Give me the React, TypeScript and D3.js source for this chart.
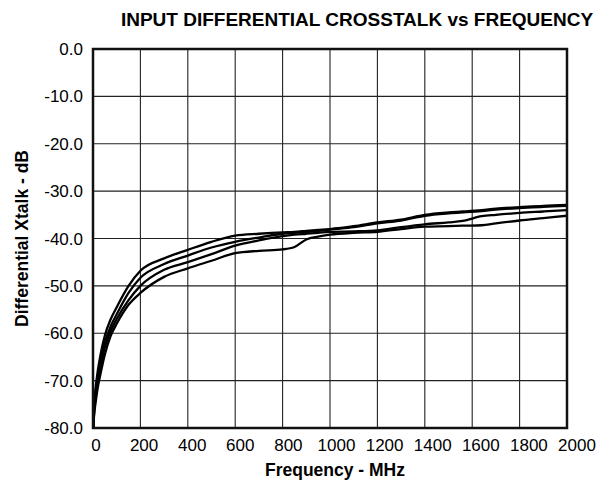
import React from 'react';
import * as d3 from 'd3';

// frequency points (MHz) shared by every trace
const freqs = [1, 5, 10, 20, 30, 50, 75, 100, 150, 200, 300, 400, 500, 600, 700, 800, 850, 900, 950, 1000, 1100, 1200, 1300, 1400, 1500, 1560, 1640, 1700, 1800, 1900, 2000];

const traceA = [-80, -75, -72, -68, -65, -60.5, -57, -54.5, -50, -46.8, -44.2, -42.4, -40.7, -39.4, -39.0, -38.7, -38.6, -38.4, -38.2, -38.0, -37.4, -36.6, -36.0, -35.0, -34.5, -34.3, -34.0, -33.7, -33.4, -33.1, -32.9];
const traceB = [-80, -76, -73, -69, -66.5, -62, -58.5, -56, -51.5, -48.3, -45.4, -43.6, -41.9, -40.7, -39.8, -39.0, -38.8, -38.6, -38.4, -38.1, -37.6, -36.8, -36.2, -35.2, -34.7, -34.5, -34.2, -33.9, -33.6, -33.3, -33.1];
const traceC = [-80, -76.5, -74, -70, -67.5, -63, -59.5, -57, -53, -50.0, -46.6, -45.0, -43.3, -41.5, -40.4, -39.5, -39.2, -39.0, -38.8, -38.6, -38.5, -38.3, -37.6, -37.0, -36.6, -36.3, -35.3, -35.0, -34.6, -34.3, -34.0];
const traceD = [-80, -77, -75, -71.5, -69, -64.5, -60.5, -58, -54, -51.5, -48.1, -46.3, -44.7, -43.1, -42.6, -42.3, -41.8, -40.2, -39.6, -39.2, -38.8, -38.6, -38.0, -37.5, -37.4, -37.3, -37.2, -36.8, -36.2, -35.7, -35.2];

const traces = [traceA, traceB, traceC, traceD];

const xTicks = [0, 200, 400, 600, 800, 1000, 1200, 1400, 1600, 1800, 2000];
const yTicks = [0, -10, -20, -30, -40, -50, -60, -70, -80];

const W = 602;
const H = 485;
const margin = { top: 49, right: 35, bottom: 57, left: 93 };
const font = '"Liberation Sans", Arial, sans-serif';

export default function App() {
  const innerW = W - margin.left - margin.right;
  const innerH = H - margin.top - margin.bottom;

  const x = d3.scaleLinear().domain([0, 2000]).range([margin.left, margin.left + innerW]);
  const y = d3.scaleLinear().domain([-80, 0]).range([margin.top + innerH, margin.top]);
  // tick labels in the original sit a touch right of their gridlines
  const xLabel = d3.scaleLinear().domain([0, 2000]).range([margin.left + 3, margin.left + innerW + 10]);

  const line = d3
    .line<number>()
    .x((_, i) => x(freqs[i]))
    .y((d) => y(d))
    .curve(d3.curveMonotoneX);

  return (
    <svg
      width={W}
      height={H}
      style={{ position: 'absolute', left: 0, top: 0, background: '#fff' }}
      fontFamily={font}
    >
      <rect x={0} y={0} width={W} height={H} fill="#fff" />

      {/* title */}
      <text x={357} y={26} textAnchor="middle" fontSize={19} fontWeight="bold" fill="#000">
        INPUT DIFFERENTIAL CROSSTALK vs FREQUENCY
      </text>

      {/* grid */}
      {xTicks.slice(1, -1).map((t) => (
        <line key={'gx' + t} x1={x(t)} x2={x(t)} y1={y(0)} y2={y(-80)} stroke="#222" strokeWidth={1.1} />
      ))}
      {yTicks.slice(1, -1).map((t) => (
        <line key={'gy' + t} x1={x(0)} x2={x(2000)} y1={y(t)} y2={y(t)} stroke="#222" strokeWidth={1.1} />
      ))}

      {/* traces */}
      {traces.map((tr, i) => (
        <path key={i} d={line(tr) || ''} fill="none" stroke="#000" strokeWidth={2.3} strokeLinejoin="round" />
      ))}

      {/* frame */}
      <rect x={x(0)} y={y(0)} width={innerW} height={innerH} fill="none" stroke="#111" strokeWidth={2.5} />

      {/* y tick labels */}
      {yTicks.map((t) => (
        <text key={'ty' + t} x={83} y={y(t) + 6} textAnchor="end" fontSize={17} fill="#000">
          {t.toFixed(1)}
        </text>
      ))}

      {/* x tick labels */}
      {xTicks.map((t) => (
        <text key={'tx' + t} x={xLabel(t)} y={451} textAnchor="middle" fontSize={17} fill="#000">
          {t}
        </text>
      ))}

      {/* axis titles */}
      <text x={335} y={476} textAnchor="middle" fontSize={17.5} fontWeight="bold" fill="#000">
        Frequency - MHz
      </text>
      <text
        transform={`translate(28, ${y(-40)}) rotate(-90)`}
        textAnchor="middle"
        fontSize={17.5}
        fontWeight="bold"
        fill="#000"
      >
        Differential Xtalk - dB
      </text>
    </svg>
  );
}
